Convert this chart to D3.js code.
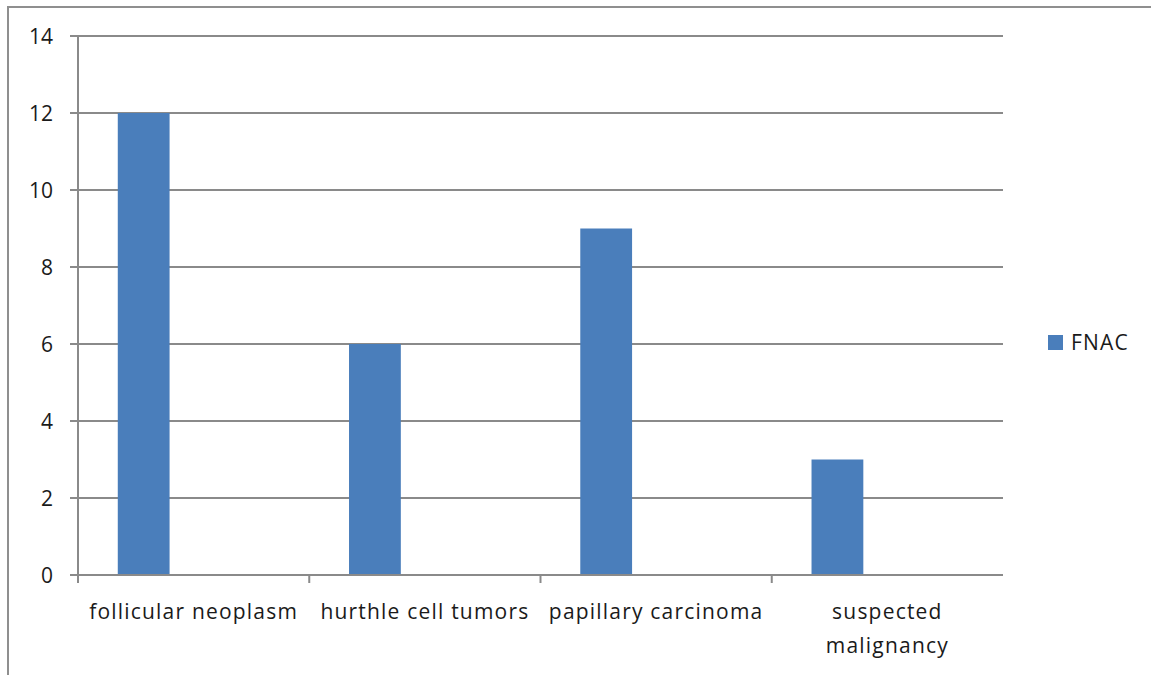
<!DOCTYPE html>
<html>
<head>
<meta charset="utf-8">
<script src="https://cdn.jsdelivr.net/npm/d3@7"></script>
<style>
  html, body { margin: 0; padding: 0; background: #fff; }
  svg { display: block; }
  text { font-family: "Open Sans", "Liberation Sans", sans-serif; fill: #1a1a1a; }
</style>
</head>
<body>
<svg id="chart" width="1151" height="675"></svg>
<script>
// FNAC counts by diagnosis category
const categories = ["follicular neoplasm", "hurthle cell tumors", "papillary carcinoma", "suspected malignancy"];
const categoryLines = [["follicular neoplasm"], ["hurthle cell tumors"], ["papillary carcinoma"], ["suspected", "malignancy"]];
const seriesName = "FNAC";
const fnacValues = [12, 6, 9, 3];
const yTicks = [0, 2, 4, 6, 8, 10, 12, 14];

const svg = d3.select("#chart");
const plot = { left: 78, right: 1003, top: 36, bottom: 575 };
const gridColor = "#8a8a8a";
const barColor = "#4a7ebb";

// outer chart frame (top and left edges)
svg.append("path")
  .attr("d", "M8,675 L8,7 L1151,7")
  .attr("fill", "none").attr("stroke", "#8f8f8f").attr("stroke-width", 2);

const x = d3.scaleBand().domain(categories).range([plot.left, plot.right]).padding(0);
const y = d3.scaleLinear().domain([0, 14]).range([plot.bottom, plot.top]);

// horizontal gridlines with left tick marks
svg.append("g").selectAll("line").data(yTicks.filter(d => d > 0)).join("line")
  .attr("x1", plot.left - 8).attr("x2", plot.right)
  .attr("y1", d => y(d)).attr("y2", d => y(d))
  .attr("stroke", gridColor).attr("stroke-width", 2);

// y tick labels
svg.append("g").selectAll("text").data(yTicks).join("text")
  .attr("x", 53).attr("y", d => y(d)).attr("dy", "0.36em")
  .attr("text-anchor", "end").attr("font-size", 21)
  .text(d => d);

// bars: sit in the left part of each category slot
const bw = x.bandwidth();
const barOffset = bw * 0.172;
const barWidth = bw * 0.224;
svg.append("g").selectAll("rect").data(fnacValues).join("rect")
  .attr("x", (d, i) => x(categories[i]) + barOffset)
  .attr("width", barWidth)
  .attr("y", d => y(d))
  .attr("height", d => y(0) - y(d))
  .attr("fill", barColor);

// axes lines
svg.append("line")
  .attr("x1", plot.left).attr("x2", plot.left).attr("y1", plot.top).attr("y2", plot.bottom + 8)
  .attr("stroke", gridColor).attr("stroke-width", 2);
svg.append("line")
  .attr("x1", plot.left - 8).attr("x2", plot.right).attr("y1", plot.bottom).attr("y2", plot.bottom)
  .attr("stroke", gridColor).attr("stroke-width", 2);

// category boundary ticks
svg.append("g").selectAll("line").data(categories.slice(1)).join("line")
  .attr("x1", d => x(d)).attr("x2", d => x(d))
  .attr("y1", plot.bottom).attr("y2", plot.bottom + 8)
  .attr("stroke", gridColor).attr("stroke-width", 2);

// category labels
const labels = svg.append("g").selectAll("text").data(categories).join("text")
  .attr("x", d => x(d) + bw / 2)
  .attr("y", 619)
  .attr("text-anchor", "middle").attr("font-size", 21)
  .attr("letter-spacing", 1.2);
labels.each(function(d, i) {
  d3.select(this).selectAll("tspan").data(categoryLines[i]).join("tspan")
    .attr("x", x(d) + bw / 2)
    .attr("dy", (t, j) => j === 0 ? 0 : 34)
    .text(t => t);
});

// legend
const legend = svg.append("g").attr("transform", "translate(1048,335)");
legend.append("rect").attr("width", 15).attr("height", 15).attr("fill", barColor);
legend.append("text").attr("x", 23).attr("y", 7.5).attr("dy", "0.36em")
  .attr("font-size", 21).attr("letter-spacing", 1.2).text(seriesName);
</script>
</body>
</html>
